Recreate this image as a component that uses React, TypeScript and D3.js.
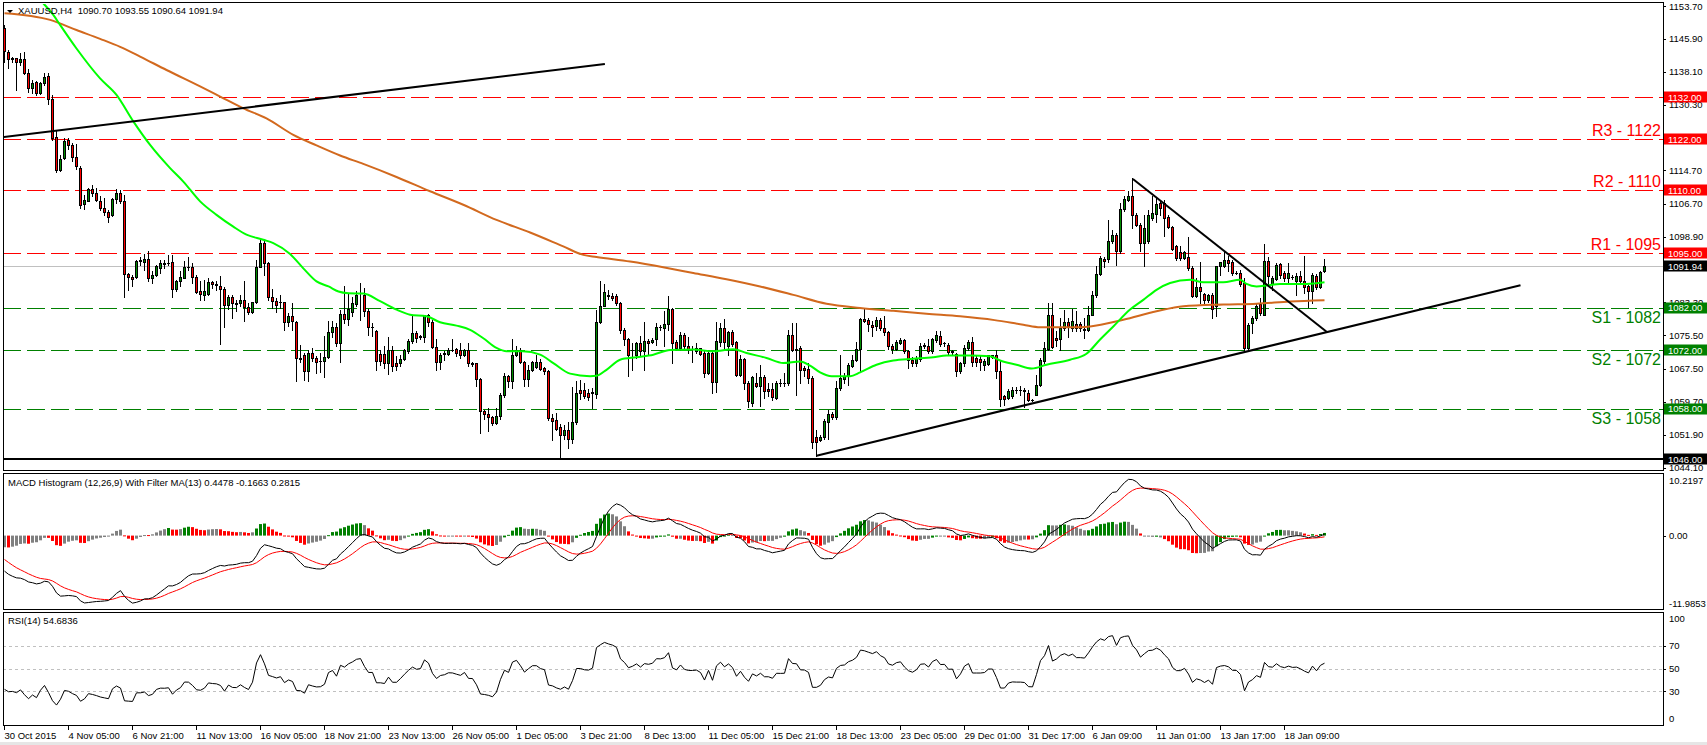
import React from "react";
import * as d3 from "d3";

const W = 1707;
const H = 745;

// ---------- DATA ----------
// candles: [open, high, low, close] for bars 0..330 (H4)
const candles: [number, number, number, number][] = [
[1148.4,1149.2,1140.5,1142.9],[1142.7,1143.3,1138.9,1141.1],[1141.3,1141.7,1140.5,1141.2],[1141.3,1141.4,1133.8,1140.3],[1140.3,1142.5,1139.7,1141.1],
[1141.1,1142.7,1137.5,1137.7],[1137.7,1138.7,1133.2,1134.2],[1134.2,1136.1,1133.0,1135.3],[1135.6,1135.9,1132.6,1133.0],[1133.0,1135.7,1132.7,1135.3],
[1135.3,1137.9,1135.0,1136.9],[1137.1,1137.7,1130.4,1131.6],[1131.6,1132.6,1121.9,1122.3],[1122.5,1124.3,1114.2,1114.8],[1114.8,1118.3,1114.4,1117.4],
[1117.6,1122.4,1117.4,1121.7],[1121.8,1122.3,1119.8,1120.7],[1120.6,1121.1,1116.8,1117.9],[1117.9,1120.9,1115.0,1115.6],[1115.2,1115.6,1105.8,1106.5],
[1106.6,1108.8,1105.5,1107.7],[1107.4,1110.4,1107.3,1110.3],[1110.3,1111.1,1108.5,1109.2],[1109.2,1110.4,1107.3,1107.7],[1107.4,1108.5,1105.3,1105.8],
[1105.8,1108.2,1104.1,1104.7],[1104.7,1105.3,1102.5,1103.6],[1104.1,1108.2,1103.9,1107.9],[1107.9,1110.3,1106.9,1109.2],[1109.2,1110.0,1106.9,1107.3],
[1107.3,1108.8,1084.5,1090.0],[1090.1,1090.3,1086.3,1089.3],[1089.3,1089.9,1087.1,1088.8],[1089.3,1093.4,1089.1,1093.2],[1093.3,1094.2,1092.2,1093.2],
[1093.0,1094.8,1090.9,1093.6],[1093.6,1095.6,1088.3,1089.1],[1089.1,1090.7,1087.9,1089.7],[1089.7,1092.2,1089.5,1092.0],[1091.4,1093.4,1090.3,1092.6],
[1092.6,1093.4,1091.4,1092.5],[1092.6,1094.6,1092.2,1092.7],[1092.9,1094.6,1084.5,1086.5],[1086.5,1088.7,1085.9,1088.3],[1088.3,1090.7,1087.3,1089.3],
[1089.2,1093.2,1089.1,1091.8],[1091.8,1094.0,1091.1,1091.7],[1091.8,1092.6,1087.9,1089.3],[1089.3,1089.9,1085.5,1085.7],[1086.1,1088.3,1083.9,1085.3],
[1085.1,1088.7,1083.8,1086.1],[1085.3,1089.1,1085.1,1088.1],[1088.1,1088.5,1086.7,1087.7],[1087.6,1088.3,1086.3,1087.5],[1087.3,1089.5,1073.4,1086.5],
[1086.5,1086.9,1077.4,1082.6],[1082.6,1085.1,1081.8,1084.7],[1084.7,1085.1,1079.7,1083.1],[1083.1,1083.9,1081.3,1083.0],[1083.1,1085.1,1082.4,1083.9],
[1083.9,1088.4,1079.0,1082.3],[1082.3,1083.1,1080.5,1081.0],[1081.0,1083.5,1080.8,1083.3],[1083.3,1093.4,1083.1,1091.8],[1091.8,1098.2,1091.6,1097.4],
[1097.4,1097.8,1089.9,1092.6],[1092.6,1093.0,1083.9,1084.7],[1084.7,1086.5,1082.0,1083.7],[1083.7,1084.3,1081.0,1082.6],[1083.4,1085.1,1082.0,1083.3],
[1083.4,1083.5,1076.8,1078.6],[1078.6,1080.8,1077.6,1080.0],[1080.0,1083.1,1076.8,1078.8],[1078.6,1078.8,1064.7,1070.2],[1070.2,1073.3,1069.1,1069.9],
[1070.7,1071.3,1064.9,1067.1],[1067.1,1072.1,1064.7,1071.3],[1071.3,1072.5,1069.3,1070.1],[1070.1,1070.5,1066.5,1069.2],[1069.4,1071.3,1066.8,1069.3],
[1069.3,1075.4,1065.5,1070.4],[1070.4,1078.8,1070.1,1076.3],[1076.3,1078.8,1075.2,1077.5],[1077.5,1078.4,1072.9,1073.7],[1073.7,1081.6,1069.1,1080.6],
[1080.6,1087.3,1078.4,1079.4],[1079.4,1085.5,1078.0,1081.7],[1081.0,1084.7,1080.0,1083.1],[1083.0,1085.9,1082.4,1085.0],[1085.6,1087.9,1079.2,1085.5],
[1085.0,1086.7,1080.0,1081.2],[1081.2,1081.7,1075.6,1077.4],[1077.5,1078.4,1075.4,1077.4],[1076.6,1076.8,1067.3,1069.5],[1071.1,1072.1,1068.5,1069.5],
[1071.1,1072.9,1067.7,1068.9],[1068.9,1075.1,1066.4,1072.1],[1072.1,1072.9,1066.9,1068.1],[1068.8,1070.5,1067.3,1068.1],[1068.8,1070.9,1068.1,1069.9],
[1069.9,1072.2,1069.7,1072.1],[1071.8,1074.6,1071.4,1074.2],[1074.2,1080.0,1073.7,1076.0],[1076.0,1076.4,1073.8,1074.8],[1075.3,1075.6,1074.6,1075.2],
[1075.2,1080.4,1074.0,1080.2],[1080.2,1080.6,1077.6,1078.6],[1078.6,1079.2,1072.5,1072.7],[1072.7,1074.6,1067.3,1069.1],[1069.1,1071.3,1067.6,1070.7],
[1071.2,1071.7,1069.7,1071.1],[1071.1,1072.5,1070.9,1072.1],[1072.1,1074.6,1071.7,1072.0],[1072.2,1072.4,1070.5,1071.3],[1071.9,1073.7,1070.1,1070.7],
[1070.7,1072.2,1070.5,1071.9],[1071.9,1073.7,1068.3,1068.8],[1068.8,1069.1,1068.1,1068.7],[1068.8,1068.9,1063.4,1065.0],[1065.1,1065.4,1052.3,1057.4],
[1057.4,1057.8,1055.5,1056.9],[1056.9,1058.2,1052.7,1056.1],[1056.1,1056.4,1054.3,1054.7],[1054.7,1058.2,1054.4,1056.3],[1056.3,1061.8,1055.6,1061.3],
[1061.2,1066.5,1060.9,1065.9],[1065.9,1066.1,1063.2,1064.6],[1064.6,1074.5,1063.0,1070.9],[1070.9,1073.0,1070.5,1072.1],[1072.1,1072.5,1068.9,1069.1],
[1069.1,1069.5,1063.5,1065.1],[1065.1,1068.5,1063.5,1067.2],[1067.2,1069.5,1067.0,1069.1],[1068.0,1070.7,1067.7,1069.1],[1069.1,1069.9,1067.2,1067.5],
[1067.7,1067.9,1066.4,1066.9],[1066.9,1067.2,1055.3,1055.9],[1055.9,1056.7,1050.6,1055.1],[1055.3,1057.0,1052.9,1053.2],[1053.7,1054.5,1046.0,1051.9],
[1051.9,1054.3,1050.9,1052.9],[1052.9,1054.8,1048.7,1050.9],[1050.9,1063.2,1049.8,1054.8],[1054.8,1064.6,1054.5,1061.8],[1062.4,1064.9,1060.4,1061.8],
[1062.6,1064.2,1060.6,1061.0],[1061.9,1062.7,1060.2,1060.8],[1062.0,1063.0,1058.2,1061.9],[1061.6,1081.6,1060.6,1078.7],[1078.7,1088.3,1078.4,1082.5],
[1082.4,1087.7,1082.4,1085.7],[1085.0,1086.3,1084.1,1084.9],[1084.9,1085.5,1083.9,1084.3],[1084.9,1085.4,1082.8,1083.2],[1083.2,1083.5,1076.0,1076.8],
[1076.8,1077.2,1073.3,1074.5],[1074.6,1074.8,1065.9,1070.9],[1072.1,1073.7,1067.3,1072.0],[1070.9,1073.8,1070.1,1073.7],[1073.7,1075.3,1070.9,1071.7],
[1071.7,1078.6,1067.3,1074.1],[1074.1,1074.5,1070.9,1073.7],[1073.8,1074.9,1073.7,1074.4],[1074.6,1078.4,1073.3,1077.5],[1077.5,1078.0,1076.7,1077.4],
[1077.2,1081.2,1072.9,1078.2],[1078.2,1084.9,1076.8,1081.7],[1081.7,1081.9,1068.9,1073.7],[1074.0,1074.4,1072.1,1072.5],[1072.5,1076.2,1072.1,1075.6],
[1075.6,1076.0,1072.5,1072.9],[1072.9,1075.2,1071.3,1072.2],[1072.3,1072.9,1069.1,1072.2],[1071.7,1073.7,1071.3,1072.4],[1072.4,1072.5,1070.7,1071.1],
[1071.3,1071.7,1065.7,1066.5],[1066.5,1072.1,1066.4,1071.4],[1071.4,1071.7,1061.8,1064.3],[1064.3,1078.6,1062.0,1074.1],[1073.8,1078.4,1072.9,1077.2],
[1077.2,1079.4,1072.1,1073.8],[1072.9,1076.4,1070.9,1076.2],[1076.2,1076.7,1072.9,1073.5],[1073.8,1074.1,1065.8,1066.1],[1066.1,1070.9,1065.8,1069.9],
[1069.9,1070.1,1062.7,1064.2],[1064.2,1064.6,1058.5,1059.8],[1059.4,1065.8,1058.6,1065.6],[1064.2,1066.5,1063.2,1063.5],[1063.5,1068.5,1058.6,1065.6],
[1065.6,1066.1,1060.6,1062.2],[1062.7,1064.2,1061.0,1062.2],[1062.7,1064.2,1060.2,1060.8],[1060.6,1064.6,1060.4,1064.2],[1064.2,1065.0,1063.4,1064.1],
[1064.1,1066.5,1063.4,1064.2],[1064.2,1076.8,1063.8,1075.6],[1075.6,1078.4,1071.7,1072.1],[1072.2,1078.4,1061.4,1071.9],[1072.5,1073.0,1064.2,1067.3],
[1067.7,1068.3,1065.8,1067.2],[1067.5,1068.9,1064.2,1065.4],[1065.4,1065.8,1048.7,1050.1],[1051.4,1053.1,1046.9,1050.1],[1050.6,1051.9,1050.3,1051.4],
[1051.4,1055.5,1050.9,1055.1],[1054.8,1057.8,1050.9,1056.9],[1056.9,1057.2,1055.5,1056.1],[1056.1,1064.6,1055.5,1063.0],[1063.0,1070.7,1062.6,1065.4],
[1065.1,1066.5,1064.2,1065.8],[1065.8,1068.9,1063.8,1068.5],[1068.3,1070.7,1068.0,1069.7],[1069.7,1073.8,1069.5,1072.2],[1072.2,1079.6,1066.7,1079.4],
[1079.4,1081.7,1078.6,1079.0],[1079.2,1079.6,1076.4,1078.2],[1078.0,1078.8,1075.4,1077.5],[1077.6,1079.8,1076.8,1079.2],[1079.2,1079.6,1076.8,1077.2],
[1077.2,1080.0,1075.6,1076.2],[1076.2,1076.4,1072.2,1072.9],[1073.0,1073.5,1071.4,1072.2],[1072.2,1074.3,1072.1,1073.8],[1073.7,1074.9,1073.5,1074.3],
[1074.3,1074.6,1071.3,1071.7],[1071.7,1072.1,1067.7,1069.7],[1069.7,1070.3,1068.3,1068.9],[1068.9,1070.5,1068.3,1070.1],[1069.9,1073.7,1069.5,1072.9],
[1073.0,1073.7,1072.5,1073.1],[1073.0,1074.5,1071.3,1071.7],[1071.7,1074.9,1071.3,1074.5],[1074.3,1076.4,1073.8,1075.6],[1075.4,1076.4,1072.9,1073.5],
[1073.7,1074.0,1073.0,1073.6],[1073.3,1073.7,1071.1,1071.5],[1071.7,1072.1,1071.1,1071.6],[1071.1,1071.4,1065.9,1066.9],[1066.9,1069.1,1066.5,1068.9],
[1068.9,1073.3,1068.3,1072.5],[1072.5,1074.3,1072.1,1073.8],[1073.8,1075.1,1068.3,1069.1],[1070.1,1070.5,1068.1,1069.1],[1069.9,1070.5,1067.2,1069.1],
[1068.5,1069.9,1067.3,1069.3],[1068.7,1070.9,1068.5,1070.7],[1070.4,1070.9,1070.1,1070.7],[1070.7,1071.9,1065.4,1066.9],[1066.9,1069.3,1058.6,1060.4],
[1061.0,1061.4,1059.0,1060.4],[1060.6,1062.7,1060.4,1062.2],[1061.0,1063.2,1060.6,1062.6],[1062.6,1063.2,1061.8,1062.5],[1062.6,1063.4,1061.4,1062.5],
[1062.4,1063.0,1058.5,1062.3],[1061.9,1062.6,1059.8,1060.2],[1060.2,1060.4,1059.9,1060.1],[1061.4,1066.1,1061.2,1063.8],[1063.8,1070.1,1063.4,1069.7],
[1069.5,1074.0,1068.9,1072.5],[1072.2,1083.2,1072.1,1080.2],[1080.2,1083.2,1072.5,1072.7],[1074.8,1076.4,1072.9,1074.3],[1074.6,1079.6,1072.1,1077.2],
[1077.2,1081.6,1076.8,1078.6],[1078.6,1079.6,1075.2,1077.6],[1077.2,1081.7,1076.4,1078.8],[1078.2,1081.2,1076.4,1077.2],[1078.2,1078.6,1076.4,1077.2],
[1076.7,1079.6,1074.9,1077.0],[1076.8,1082.4,1076.4,1080.4],[1080.4,1085.9,1080.2,1085.1],[1085.1,1091.9,1084.7,1090.1],[1090.1,1094.4,1089.9,1093.8],
[1093.6,1094.2,1091.7,1093.2],[1093.6,1102.8,1093.0,1098.0],[1097.8,1100.6,1097.4,1099.4],[1099.4,1099.8,1092.2,1095.4],[1095.4,1106.9,1095.0,1105.5],
[1105.5,1108.5,1105.1,1107.8],[1107.7,1109.7,1107.5,1108.6],[1108.6,1112.8,1100.9,1104.1],[1104.1,1104.5,1101.5,1101.7],[1101.7,1102.1,1095.4,1097.5],
[1097.5,1104.1,1091.9,1100.9],[1097.8,1105.3,1097.4,1104.1],[1103.3,1108.5,1102.9,1104.5],[1104.4,1108.1,1102.3,1106.7],[1107.0,1107.7,1104.1,1105.7],
[1106.9,1107.7,1099.0,1103.3],[1103.7,1104.1,1100.9,1101.2],[1101.2,1101.5,1095.7,1096.0],[1096.6,1097.0,1093.4,1093.8],[1095.2,1096.6,1093.4,1093.8],
[1093.8,1095.4,1093.6,1095.2],[1094.1,1098.8,1091.1,1091.5],[1091.5,1091.9,1084.7,1084.9],[1084.9,1089.1,1084.7,1086.9],[1086.9,1092.8,1083.2,1085.9],
[1085.4,1085.5,1082.8,1083.9],[1083.9,1085.4,1083.5,1085.1],[1085.1,1085.5,1079.6,1081.7],[1082.4,1092.0,1080.0,1091.9],[1091.9,1093.0,1089.9,1093.0],
[1092.0,1095.4,1091.7,1093.4],[1093.4,1094.4,1090.7,1092.6],[1093.0,1093.4,1089.9,1090.4],[1090.4,1090.7,1090.1,1090.3],[1090.4,1091.1,1087.1,1087.7],
[1087.9,1089.1,1072.1,1072.5],[1072.5,1078.4,1072.2,1078.0],[1078.4,1080.0,1076.0,1079.6],[1079.6,1083.2,1079.2,1082.4],[1083.0,1084.3,1080.2,1080.8],
[1080.4,1097.2,1080.2,1093.2],[1093.2,1094.2,1087.1,1089.5],[1087.7,1089.5,1086.3,1089.1],[1088.8,1092.6,1088.7,1092.2],[1092.5,1092.6,1089.1,1089.9],
[1090.4,1090.7,1088.5,1089.1],[1089.1,1092.6,1087.9,1090.3],[1089.3,1089.9,1088.8,1089.4],[1088.5,1090.3,1085.1,1089.6],[1089.6,1090.7,1088.1,1088.5],
[1088.5,1094.4,1085.5,1087.0],[1087.1,1087.5,1082.2,1085.9],[1085.9,1090.3,1083.2,1089.9],[1089.6,1090.1,1086.5,1087.0],[1087.0,1090.7,1086.7,1090.5],
[1090.70,1093.55,1090.64,1091.94]
];

// moving averages: [bar index, price]
const greenMA: [number, number][] = [
[8,1156],[10,1154],[12.2,1151.6],[13.9,1149.2],[18,1143.6],[23.9,1136.5],[28,1132.6],[32.2,1126.3],[36.4,1120.7],[41.4,1115.2],
[44.7,1112.0],[48.9,1107.3],[53,1104.1],[57.2,1101.3],[60.5,1099.4],[64.7,1098.2],[67.2,1097.4],[71.4,1094.8],[74.7,1091.4],[78,1088.3],
[81,1087.1],[83.5,1085.9],[86,1085.5],[89.7,1085.4],[93.9,1083.6],[98,1081.6],[101.4,1080.4],[105.5,1080.0],[108.9,1078.6],[113,1077.8],
[116.4,1076.8],[119.7,1074.8],[123,1072.5],[125.5,1071.7],[129.5,1071.7],[133.9,1070.9],[137.2,1068.9],[141.4,1066.4],[146.4,1065.8],[148,1065.9],
[150.5,1067.3],[153.9,1069.7],[158,1070.3],[162.2,1070.9],[166.4,1072.0],[172.2,1072.1],[177.2,1071.7],[182.2,1072.2],[185.5,1071.3],[190.5,1070.1],
[194.7,1068.9],[198.9,1069.3],[201.4,1068.3],[203.9,1066.7],[206.8,1065.8],[211.4,1065.8],[213.9,1066.7],[218,1068.5],[222.2,1069.5],[227.2,1069.9],
[232.2,1070.3],[235.5,1070.7],[241.4,1070.7],[246.4,1070.5],[248.9,1069.5],[253,1068.5],[256.8,1067.6],[260.5,1068.5],[266.4,1069.7],[270.5,1071.1],
[273.9,1074.5],[277.2,1077.6],[281.4,1081.6],[284.7,1083.9],[288,1086.3],[291.4,1087.9],[296.4,1088.7],[299.7,1088.1],[304.7,1088.1],[308.9,1088.7],
[310.5,1087.7],[313,1087.1],[315.5,1087.3],[318.9,1087.7],[325.5,1087.7],[330,1088.1]
];
const orangeMA: [number, number][] = [
[0,1152.0],[11.4,1150.4],[18,1148.0],[23.9,1145.9],[28.9,1144.0],[33.9,1141.7],[40.5,1138.5],[48.9,1134.6],[53.9,1132.2],[59.7,1129.4],
[65.5,1127.0],[72.2,1123.1],[78,1120.6],[83.9,1118.2],[89.7,1116.2],[98,1113.1],[106.4,1109.7],[114.7,1106.5],[123,1102.9],[131.4,1099.9],
[139.7,1096.6],[144.7,1094.6],[148,1094.1],[156.4,1093.0],[165,1091.6],[172.2,1090.3],[180.5,1088.8],[188.9,1087.1],[197.2,1085.1],[205.5,1083.0],
[213.9,1082.0],[222.2,1081.3],[230.5,1080.6],[238.9,1080.0],[247.5,1079.1],[254.7,1078.0],[258.9,1077.4],[267.2,1077.4],[271.4,1077.6],[279.7,1079.2],
[288,1081.2],[294.7,1082.4],[304.7,1082.8],[313,1083.0],[321.4,1083.5],[330,1083.8]
];

// trend lines: [[bar, price], [bar, price]]
const trendLines: [number, number][][] = [
  [[-0.2, 1122.6], [150.1, 1139.9]],
  [[282.1, 1112.6], [330.6, 1076.3]],
  [[203, 1046.9], [379, 1087.4]],
];

const resistanceLevels = [1132, 1122, 1110, 1095];
const resistanceLabels = ["", "R3 - 1122", "R2 - 1110", "R1 - 1095"];
const supportLevels = [1082, 1072, 1058];
const supportLabels = ["S1 - 1082", "S2 - 1072", "S3 - 1058"];
const floorLevel = 1046;
const lastPrice = 1091.94;

// visible price-axis ticks (1122.50 and 1091.10 are fully covered by level boxes)
const priceTicks = [1153.7, 1145.9, 1138.1, 1130.3, 1114.7, 1106.7, 1098.9, 1083.3, 1075.5, 1067.5, 1059.7, 1051.9, 1044.1];
const priceDomain = [1044.1, 1153.7];

const xLabels = ["30 Oct 2015", "4 Nov 05:00", "6 Nov 21:00", "11 Nov 13:00", "16 Nov 05:00", "18 Nov 21:00", "23 Nov 13:00", "26 Nov 05:00", "1 Dec 05:00", "3 Dec 21:00", "8 Dec 13:00", "11 Dec 05:00", "15 Dec 21:00", "18 Dec 13:00", "23 Dec 05:00", "29 Dec 01:00", "31 Dec 17:00", "6 Jan 09:00", "11 Jan 01:00", "13 Jan 17:00", "18 Jan 09:00"];
const xLabelStep = 16;

const headerText = "XAUUSD,H4  1090.70 1093.55 1090.64 1091.94";
const macdTitle = "MACD Histogram (12,26,9) With Filter MA(13) 0.4478 -0.1663 0.2815";
const rsiTitle = "RSI(14) 54.6836";
const macdRange = [-11.9853, 10.2197];
const macdTickLabels = ["10.2197", "0.00", "-11.9853"];
const rsiLevels = [70, 50, 30];
const rsiTicks = [100, 70, 50, 30, 0];

// indicator state carried in from bars before the visible window
const emaFastSeed = 1153.0;
const emaSlowSeed = 1158.8;
const signalSeed = -3.9;
const rsiGainSeed = 0.6;
const rsiLossSeed = 1.3;

// ---------- INDICATORS ----------
const closes = candles.map((c) => c[3]);

function computeMacd() {
  let ef = emaFastSeed, es = emaSlowSeed, sig = signalSeed;
  const main: number[] = [], signal: number[] = [], hist: number[] = [], colors: string[] = [];
  closes.forEach((c, i) => {
    if (i > 0) {
      ef += (2 / 13) * (c - ef);
      es += (2 / 27) * (c - es);
    }
    const m = ef - es;
    if (i > 0) sig += (2 / 10) * (m - sig);
    main.push(m);
    signal.push(sig);
    hist.push(m - sig);
  });
  hist.forEach((h, i) => {
    const from = Math.max(0, i - 12);
    const ma = d3.mean(closes.slice(from, i + 1)) as number;
    const rising = i === 0 ? true : h > hist[i - 1];
    const c = closes[i];
    if (rising && c > ma) colors.push("#008000");
    else if (!rising && c < ma) colors.push("#ff0000");
    else colors.push("#808080");
  });
  return { main, signal, hist, colors };
}

function computeRsi() {
  let g = rsiGainSeed, l = rsiLossSeed;
  const out: number[] = [100 * g / (g + l)];
  for (let i = 1; i < closes.length; i++) {
    const d = closes[i] - closes[i - 1];
    g = (g * 13 + Math.max(d, 0)) / 14;
    l = (l * 13 + Math.max(-d, 0)) / 14;
    out.push(100 * g / (g + l));
  }
  return out;
}

// ---------- LAYOUT ----------
const L = 3, R = 1663;
const mainTop = 3, mainBot = 470;
const macdTop = 473, macdBot = 609;
const rsiTop = 612, rsiBot = 725;
const FONT = "'Liberation Sans', Arial, sans-serif";
const FS = 9.5;

export default function App() {
  const x = d3.scaleLinear().domain([0, 330]).range([4.5, 1324.5]);
  const yP = d3.scaleLinear().domain(priceDomain).range([467.5, 6]);
  const yM = d3.scaleLinear().domain(macdRange).range([macdBot, macdTop]);
  const yR = d3.scaleLinear().domain([0, 100]).range([rsiBot, rsiTop]);

  const macd = computeMacd();
  const rsi = computeRsi();

  const maLine = d3.line<[number, number]>().x((d) => x(d[0])).y((d) => yP(d[1])).curve(d3.curveMonotoneX);
  const trendLine = d3.line<[number, number]>().x((d) => x(d[0])).y((d) => yP(d[1]));
  const seriesLine = (ys: (v: number) => number) => d3.line<number>().x((_, i) => x(i)).y((v) => ys(v));

  const hy = (v: number) => Math.round(yP(v)) + 0.5;

  const boxes = [
    ...resistanceLevels.map((v) => ({ v, fill: "#ff0000" })),
    ...supportLevels.map((v) => ({ v, fill: "#008000" })),
    { v: lastPrice, fill: "#000000" },
    { v: floorLevel, fill: "#000000" },
  ];

  return (
    <div style={{ position: "absolute", left: 0, top: 0 }}>
      <svg width={W} height={H} style={{ display: "block", background: "#fff" }} fontFamily={FONT}>
        <defs>
          <clipPath id="mainClip"><rect x={L + 1} y={mainTop + 1} width={R - L - 1} height={mainBot - mainTop - 1} /></clipPath>
          <clipPath id="macdClip"><rect x={L + 1} y={macdTop + 1} width={R - L - 1} height={macdBot - macdTop - 1} /></clipPath>
          <clipPath id="rsiClip"><rect x={L + 1} y={rsiTop + 1} width={R - L - 1} height={rsiBot - rsiTop - 1} /></clipPath>
        </defs>
        <rect x={0} y={0} width={W} height={H} fill="#fff" />
        <rect x={0} y={742} width={W} height={3} fill="#e6e6e6" />

        {/* ---------- MAIN PANEL ---------- */}
        <g clipPath="url(#mainClip)">
          {resistanceLevels.map((v, i) => (
            <line key={"r" + i} x1={L} x2={R} y1={hy(v)} y2={hy(v)} stroke="#ff0000" strokeDasharray="18,6" />
          ))}
          {supportLevels.map((v, i) => (
            <line key={"s" + i} x1={L} x2={R} y1={hy(v)} y2={hy(v)} stroke="#008000" strokeDasharray="18,6" />
          ))}
          <line x1={L} x2={R} y1={hy(lastPrice)} y2={hy(lastPrice)} stroke="#c0c0c0" />
          <line x1={L} x2={R} y1={Math.round(yP(floorLevel))} y2={Math.round(yP(floorLevel))} stroke="#000" strokeWidth={2} />

          {candles.map(([o, h, l, c], i) => {
            const px = Math.floor(x(i));
            const up = c >= o;
            const yTop = Math.round(yP(Math.max(o, c))) + 0.5;
            const yBot = Math.round(yP(Math.min(o, c))) + 0.5;
            return (
              <g key={"c" + i}>
                <line x1={px + 0.5} x2={px + 0.5} y1={Math.round(yP(h))} y2={Math.round(yP(l)) + 1} stroke="#000" />
                {yBot - yTop < 1 ? (
                  <line x1={px - 1} x2={px + 2} y1={yTop} y2={yTop} stroke="#000" />
                ) : (
                  <rect x={px - 0.5} y={yTop} width={2} height={yBot - yTop} fill={up ? "#008c00" : "#ff0000"} stroke="#000" />
                )}
              </g>
            );
          })}

          <path d={maLine(orangeMA) || ""} fill="none" stroke="#d2691e" strokeWidth={2} />
          <path d={maLine(greenMA) || ""} fill="none" stroke="#00ff00" strokeWidth={2} />

          {trendLines.map((t, i) => (
            <path key={"t" + i} d={trendLine(t) || ""} fill="none" stroke="#000" strokeWidth={2} />
          ))}

          {resistanceLabels.map((s, i) =>
            s ? (
              <text key={"rl" + i} x={1661} y={yP(resistanceLevels[i]) - 3} textAnchor="end" fontSize={16} fill="#ff0000">{s}</text>
            ) : null
          )}
          {supportLabels.map((s, i) => (
            <text key={"sl" + i} x={1661} y={yP(supportLevels[i]) + 15} textAnchor="end" fontSize={16} fill="#008000">{s}</text>
          ))}
        </g>

        {/* header */}
        <path d="M7,10 L13,10 L10,13 Z" fill="#000" />
        <text x={18} y={14} fontSize={FS} fill="#000" style={{ whiteSpace: "pre" }}>{headerText}</text>

        {/* price axis */}
        {priceTicks.map((v, i) => (
          <g key={"pt" + i}>
            <line x1={R} x2={R + 3} y1={Math.round(yP(v)) + 0.5} y2={Math.round(yP(v)) + 0.5} stroke="#000" />
            <text x={1669} y={yP(v) + 3.5} fontSize={FS} fill="#000">{v.toFixed(2)}</text>
          </g>
        ))}
        {boxes.map((b, i) => (
          <g key={"bx" + i}>
            <rect x={1664} y={Math.round(yP(b.v)) - 5.5} width={43} height={11} fill={b.fill} />
            <text x={1668} y={yP(b.v) + 3.5} fontSize={FS} fill="#fff">{b.v.toFixed(2)}</text>
          </g>
        ))}

        {/* ---------- MACD PANEL ---------- */}
        <g clipPath="url(#macdClip)">
          {macd.hist.map((h, i) => {
            const px = Math.floor(x(i));
            const y0 = yM(0), y1 = yM(h);
            return (
              <rect key={"h" + i} x={px - 1} y={Math.min(y0, y1)} width={3} height={Math.max(Math.abs(y1 - y0), 1)} fill={macd.colors[i]} />
            );
          })}
          <path d={seriesLine(yM)(macd.signal) || ""} fill="none" stroke="#ff0000" strokeWidth={1} />
          <path d={seriesLine(yM)(macd.main) || ""} fill="none" stroke="#000" strokeWidth={1} />
        </g>
        <text x={8} y={486} fontSize={FS} fill="#000">{macdTitle}</text>
        <text x={1669} y={484} fontSize={FS} fill="#000">{macdTickLabels[0]}</text>
        <line x1={R} x2={R + 3} y1={Math.round(yM(0)) + 0.5} y2={Math.round(yM(0)) + 0.5} stroke="#000" />
        <text x={1669} y={yM(0) + 3.5} fontSize={FS} fill="#000">{macdTickLabels[1]}</text>
        <text x={1669} y={606.5} fontSize={FS} fill="#000">{macdTickLabels[2]}</text>

        {/* ---------- RSI PANEL ---------- */}
        <g clipPath="url(#rsiClip)">
          {rsiLevels.map((v) => (
            <line key={"rl" + v} x1={L} x2={R} y1={Math.round(yR(v)) + 0.5} y2={Math.round(yR(v)) + 0.5} stroke="#c0c0c0" strokeDasharray="3,3" />
          ))}
          <path d={seriesLine(yR)(rsi) || ""} fill="none" stroke="#000" strokeWidth={1} />
        </g>
        <text x={8} y={624} fontSize={FS} fill="#000">{rsiTitle}</text>
        {rsiTicks.map((v) => {
          const yy = v === 100 ? 618 : v === 0 ? 718 : yR(v);
          return (
            <g key={"rt" + v}>
              {v !== 100 && v !== 0 ? <line x1={R} x2={R + 3} y1={Math.round(yR(v)) + 0.5} y2={Math.round(yR(v)) + 0.5} stroke="#000" /> : null}
              <text x={1669} y={yy + 3.5} fontSize={FS} fill="#000">{v}</text>
            </g>
          );
        })}

        {/* panel borders */}
        <rect x={L + 0.5} y={mainTop - 0.5} width={R - L} height={mainBot - mainTop + 1} fill="none" stroke="#000" />
        <rect x={L + 0.5} y={macdTop + 0.5} width={R - L} height={macdBot - macdTop} fill="none" stroke="#000" />
        <rect x={L + 0.5} y={rsiTop + 0.5} width={R - L} height={rsiBot - rsiTop} fill="none" stroke="#000" />

        {/* time axis */}
        {xLabels.map((s, k) => {
          const px = Math.floor(x(k * xLabelStep)) + 0.5;
          return (
            <g key={"xl" + k}>
              <line x1={px} x2={px} y1={rsiBot + 1} y2={rsiBot + 5} stroke="#000" />
              <text x={px} y={739} fontSize={FS} fill="#000">{s}</text>
            </g>
          );
        })}
      </svg>
    </div>
  );
}
